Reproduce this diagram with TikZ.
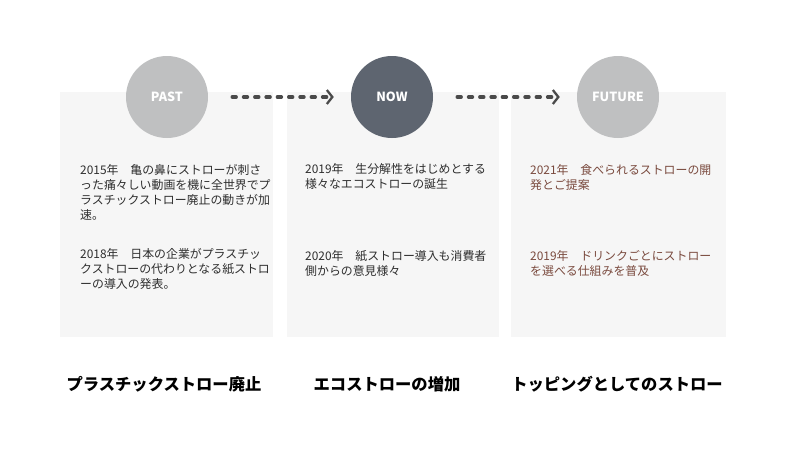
\documentclass[tikz,border=0pt]{standalone}
\usepackage{fontspec}
\setmainfont{Noto Sans CJK JP}
\usetikzlibrary{arrows.meta}
\definecolor{panelbg}{HTML}{F6F6F6}
\definecolor{lightcirc}{HTML}{BFC0C1}
\definecolor{darkcirc}{HTML}{5E6570}
\definecolor{bodytext}{HTML}{2E2E2E}
\definecolor{browntext}{HTML}{7A4A3E}
\definecolor{arrowcol}{HTML}{4A4A4A}
\tikzset{
  panel/.style={fill=panelbg, draw=none},
  circ/.style={circle, minimum size=82pt, inner sep=0pt, draw=none, text=white,
    font=\fontsize{12.6}{14}\selectfont\bfseries},
  body/.style={anchor=north west, inner sep=0pt, align=left, text=bodytext,
    font=\fontsize{11.9}{15}\selectfont},
  title/.style={anchor=base, inner sep=0pt, text=black,
    font=\fontsize{16.3}{18}\selectfont\bfseries},
  flow/.style={draw=arrowcol, line width=3.4pt, line cap=round,
    dash pattern=on 4pt off 7.3pt,
    -{Straight Barb[length=5.5pt,width=14pt,line width=2.3pt]},
    shorten <=24pt, shorten >=17pt}
}
\begin{document}
\begin{tikzpicture}[x=1pt,y=-1pt]
\useasboundingbox (0,0) rectangle (800,450);
% panels
\fill[panel] (60,92) rectangle (273,337);
\fill[panel] (287,92) rectangle (499,337);
\fill[panel] (511,92) rectangle (726,337);
% circles
\node[circ, fill=lightcirc] (past) at (167,97) {PAST};
\node[circ, fill=darkcirc] (now) at (392,97) {NOW};
\node[circ, fill=lightcirc] (future) at (618,97) {FUTURE};
% arrows
\draw[flow] (past) -- (now);
\draw[flow] (now) -- (future);
% texts panel 1
\node[body] (t1a) at (80,164) {2015年　亀の鼻にストローが刺さ\\った痛々しい動画を機に全世界でプ\\ラスチックストロー廃止の動きが加\\速。};
\node[body] (t1b) at (80,248) {2018年　日本の企業がプラスチッ\\クストローの代わりとなる紙ストロ\\ーの導入の発表。};
% panel 2
\node[body] (t2a) at (305,163) {2019年　生分解性をはじめとする\\様々なエコストローの誕生};
\node[body] (t2b) at (305,250) {2020年　紙ストロー導入も消費者\\側からの意見様々};
% panel 3
\node[body, text=browntext] (t3a) at (530,164) {2021年　食べられるストローの開\\発とご提案};
\node[body, text=browntext] (t3b) at (530,250) {2019年　ドリンクごとにストロー\\を選べる仕組みを普及};
% titles
\node[title] (h1) at (164,390) {プラスチックストロー廃止};
\node[title] (h2) at (387,390) {エコストローの増加};
\node[title] (h3) at (617,390) {トッピングとしてのストロー};
\end{tikzpicture}
\end{document}
